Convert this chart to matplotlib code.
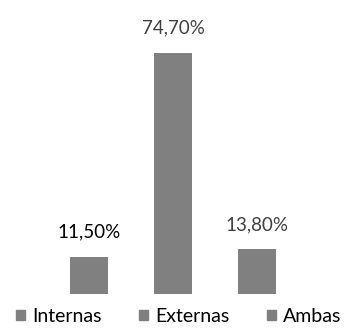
import matplotlib
matplotlib.use("Agg")
import matplotlib.pyplot as plt
from matplotlib.patches import Patch

# data
categories = ["Internas", "Externas", "Ambas"]
values = [11.5, 74.7, 13.8]
labels = ["11,50%", "74,70%", "13,80%"]
label_colors = ["#000000", "#404040", "#404040"]

plt.rcParams['font.family'] = ['Lato', 'DejaVu Sans']

fig = plt.figure(figsize=(3.44, 3.29), dpi=100)
ax = fig.add_axes([0, 35 / 329, 1, 294 / 329])

x = list(range(len(categories)))
ax.bar(x, values, width=0.45, color="#808080")
for xi, v, lab, c in zip(x, values, labels, label_colors):
    ax.text(xi, v + 5, lab, ha="center", va="bottom", fontsize=13.5, color=c)

ax.set_xlim(-89 / 84, (344 - 89) / 84)
ax.set_ylim(0, 74.7 * 294 / 241)
ax.axis("off")

handles = [Patch(color="#808080") for _ in categories]
fig.legend(handles, categories, loc="lower center", bbox_to_anchor=(0.52, -0.04),
           ncol=3, frameon=False, fontsize=14, handlelength=0.45, handleheight=0.45,
           handletextpad=0.4, columnspacing=1.9)

fig.savefig("out.png", dpi=100)
